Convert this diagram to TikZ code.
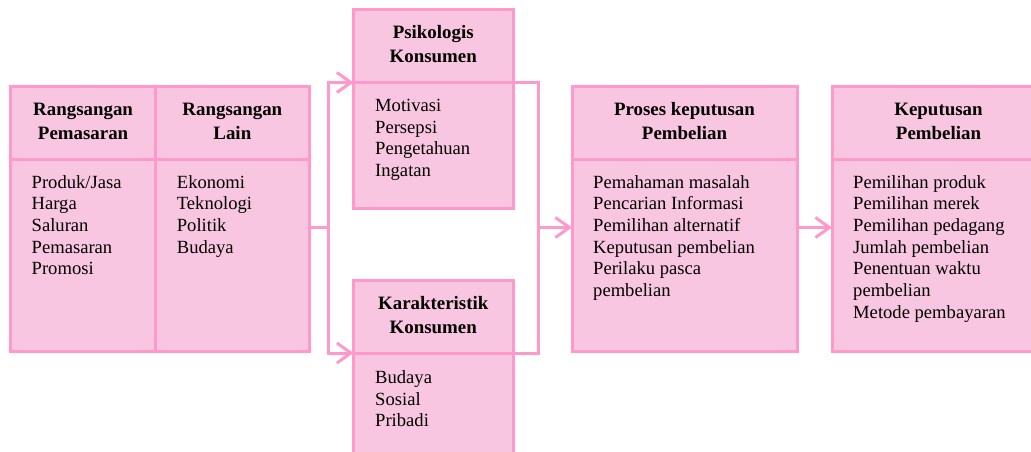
\documentclass[tikz,border=0pt]{standalone}
\usepackage{fontspec}
\setmainfont{Liberation Serif}
\usetikzlibrary{arrows.meta}
\definecolor{pinkline}{RGB}{255,153,204}
\definecolor{pinkfill}{RGB}{249,198,226}
\newcommand\boxhead{\fontsize{18.9}{24}\selectfont\bfseries}
\newcommand\boxitems{\fontsize{18.6}{21.7}\selectfont}
\tikzset{
  cell/.style={rectangle, draw=pinkline, fill=pinkfill, line width=3pt,
    inner sep=0pt, outer sep=0pt, anchor=north west},
  head/.style={font=\boxhead, align=center, inner sep=0pt, text=black},
  items/.style={font=\boxitems, align=left, inner sep=0pt, anchor=north west, text=black},
  conn/.style={draw=pinkline, line width=3pt},
  arr/.style={conn, -{Straight Barb[length=14pt,width=20pt]}}
}
\begin{document}
\begin{tikzpicture}[x=1pt,y=-1pt]
\useasboundingbox (0,0) rectangle (1031,452);
\clip (0,0) rectangle (1031,452);

% stimuli block
\node[cell, minimum width=145.2pt, minimum height=72.3pt] (rpH) at (10.5,87) {};
\node[cell, minimum width=153.3pt, minimum height=72.3pt] (rlH) at (155.7,87) {};
\node[cell, minimum width=145.2pt, minimum height=192.2pt] (rpB) at (10.5,159.3) {};
\node[cell, minimum width=153.3pt, minimum height=192.2pt] (rlB) at (155.7,159.3) {};

% consumer psychology
\node[cell, minimum width=159.5pt, minimum height=73pt] (psH) at (353.5,9.5) {};
\node[cell, minimum width=159.5pt, minimum height=125.5pt] (psB) at (353.5,82.5) {};

% consumer characteristics
\node[cell, minimum width=159.5pt, minimum height=73pt] (kkH) at (353.5,280) {};
\node[cell, minimum width=159.5pt, minimum height=130pt] (kkB) at (353.5,353) {};

% decision process
\node[cell, minimum width=225pt, minimum height=72.3pt] (prH) at (572,87) {};
\node[cell, minimum width=225pt, minimum height=192.2pt] (prB) at (572,159.3) {};

% purchase decision (runs past the right edge)
\node[cell, minimum width=213pt, minimum height=72.3pt] (kpH) at (832,87) {};
\node[cell, minimum width=213pt, minimum height=192.2pt] (kpB) at (832,159.3) {};

% headings
\node[head] (rpHt) at (rpH) {\strut Rangsangan\\\strut Pemasaran};
\node[head] (rlHt) at (rlH) {\strut Rangsangan\\\strut Lain};
\node[head] (psHt) at (psH) {\strut Psikologis\\\strut Konsumen};
\node[head] (kkHt) at (kkH) {\strut Karakteristik\\\strut Konsumen};
\node[head] (prHt) at (prH) {\strut Proses keputusan\\\strut Pembelian};
\node[head] (kpHt) at (kpH) {\strut Keputusan\\\strut Pembelian};

% item lists
\node[items] (rpBt) at ([xshift=21pt,yshift=-13.5pt]rpB.north west)
  {\strut Produk/Jasa\\Harga\\Saluran\\Pemasaran\\Promosi};
\node[items] (rlBt) at ([xshift=21pt,yshift=-13.5pt]rlB.north west)
  {\strut Ekonomi\\Teknologi\\Politik\\Budaya};
\node[items] (psBt) at ([xshift=21.5pt,yshift=-13.5pt]psB.north west)
  {\strut Motivasi\\Persepsi\\Pengetahuan\\Ingatan};
\node[items] (kkBt) at ([xshift=21.5pt,yshift=-15pt]kkB.north west)
  {\strut Budaya\\Sosial\\Pribadi};
\node[items] (prBt) at ([xshift=21pt,yshift=-13.5pt]prB.north west)
  {\strut Pemahaman masalah\\Pencarian Informasi\\Pemilihan alternatif\\Keputusan pembelian\\Perilaku pasca\\pembelian};
\node[items] (kpBt) at ([xshift=21pt,yshift=-13.5pt]kpB.north west)
  {\strut Pemilihan produk\\Pemilihan merek\\Pemilihan pedagang\\Jumlah pembelian\\Penentuan waktu\\pembelian\\Metode pembayaran};

% connectors
\coordinate (split) at (328,227.5);
\coordinate (join) at (538.5,227.5);
\draw[conn] (rlB.east |- split) -- (split);
\draw[arr] (split) |- (psB.north west);
\draw[arr] (split) |- (kkB.north west);
\draw[conn] (psB.north east) -| (join);
\draw[conn] (kkB.north east) -| (join);
\draw[arr] (join) -- (prB.west |- join);
\draw[arr] (prB.east |- join) -- (kpB.west |- join);
\end{tikzpicture}
\end{document}
